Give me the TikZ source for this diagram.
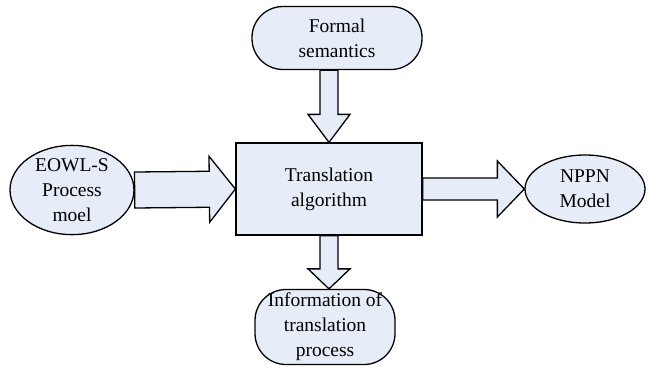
\documentclass[tikz,border=0pt]{standalone}
\usepackage{fontspec}
\setmainfont{Liberation Serif}
\usetikzlibrary{calc,shapes.geometric}
\definecolor{boxfill}{RGB}{230,237,248}
\tikzset{
  shape base/.style={draw=black, line width=1.3pt, fill=boxfill, align=center,
    inner sep=0pt, font=\fontsize{19.5}{25}\selectfont},
  oval/.style={shape base, ellipse},
  pill/.style={shape base, rectangle, rounded corners=31pt},
  procbox/.style={shape base, rectangle, rounded corners=0pt},
  blockarrowstyle/.style={draw=black, line width=1.3pt, fill=boxfill, line join=miter}
}
% block arrow from #1 to #2: shaft half width #3, head half width #4, head length #5
\newcommand\blockarrow[5]{%
  \path[blockarrowstyle] let \p1=(#1), \p2=(#2),
    \n1={atan2(\y2-\y1,\x2-\x1)}, \n2={veclen(\x2-\x1,\y2-\y1)} in
    [shift={(\p1)}, rotate=\n1]
    (0pt,-#3pt) -- (\n2-#5pt,-#3pt) -- (\n2-#5pt,-#4pt) -- (\n2,0pt)
    -- (\n2-#5pt,#4pt) -- (\n2-#5pt,#3pt) -- (0pt,#3pt) -- cycle;}
\begin{document}
\begin{tikzpicture}[x=1pt,y=-1pt]
  \useasboundingbox (0,0) rectangle (654,368);
  \node[pill, minimum width=170pt, minimum height=63pt] (fs) at (337,38) {Formal\\semantics};
  \node[procbox, minimum width=186pt, minimum height=92pt] (ta) at (329,189) {Translation\\algorithm};
  \node[oval, minimum width=124pt, minimum height=76pt] (eo) at (72,190) {EOWL-S\\Process\\moel};
  \node[oval, minimum width=120pt, minimum height=68pt] (np) at (585,189) {NPPN\\Model};
  \node[pill, minimum width=140pt, minimum height=75pt] (inf) at (325,327) {Information of\\translation\\process};
  % arrow tails/tips lined up with the box centre line
  \coordinate (fsout) at (ta.north |- fs.south);
  \coordinate (infin) at (ta.south |- inf.north);
  \blockarrow{fsout}{ta.north}{9}{21}{28}
  \blockarrow{eo.east}{ta.west}{18}{33}{26}
  \blockarrow{ta.east}{np.west}{11}{28}{27}
  \blockarrow{ta.south}{infin}{9}{21}{20}
\end{tikzpicture}
\end{document}
